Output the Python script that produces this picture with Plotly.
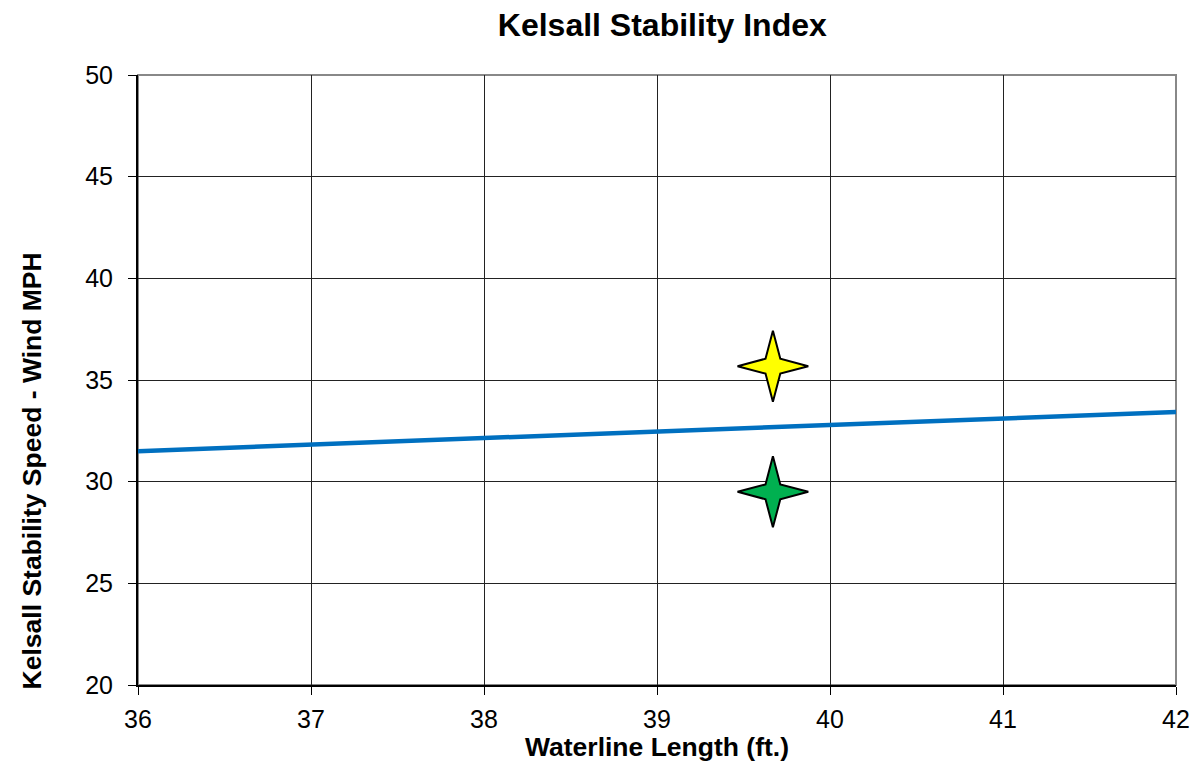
import math
import plotly.graph_objects as go

line_x = [36, 42]
line_y = [31.5, 33.43]
star_x = [39.67, 39.67]
star_y = [35.68, 29.5]
star_colors = ["#FFFF00", "#00B050"]

x_range = [36, 42]
y_range = [20, 50]

W, H = 1202, 775
ML, MR, MT, MB = 138, 22, 75, 90
plot_w = W - ML - MR
plot_h = H - MT - MB
ux = (x_range[1] - x_range[0]) / plot_w  # data per px
uy = (y_range[1] - y_range[0]) / plot_h

font = "Liberation Sans, Arial, sans-serif"

fig = go.Figure()
fig.add_trace(go.Scatter(x=line_x, y=line_y, mode="lines",
                         line=dict(color="#0070C0", width=4.5), showlegend=False,
                         hoverinfo="skip"))

R_out, R_in = 35.5, 10.5
for cx, cy, col in zip(star_x, star_y, star_colors):
    xs, ys = [], []
    for k in range(9):
        ang = math.pi / 2 + k * math.pi / 4
        r = R_out if k % 2 == 0 else R_in
        xs.append(cx + r * math.cos(ang) * ux)
        ys.append(cy + r * math.sin(ang) * uy)
    fig.add_trace(go.Scatter(x=xs, y=ys, mode="lines", fill="toself", fillcolor=col,
                             line=dict(color="black", width=2), showlegend=False,
                             hoverinfo="skip"))

fig.update_layout(
    width=W, height=H,
    margin=dict(l=ML, r=MR, t=MT, b=MB),
    paper_bgcolor="white", plot_bgcolor="white",
    title=dict(text="<b>Kelsall Stability Index</b>", x=0.551, xanchor="center",
               y=1 - 25 / H, yanchor="middle", font=dict(family=font, size=32, color="black")),
    font=dict(family=font, color="black"),
    shapes=[dict(type="rect", xref="paper", yref="paper", x0=0, x1=1, y0=0, y1=1,
                 line=dict(color="#888888", width=2), layer="below")],
    annotations=[
        dict(text="<b>Kelsall Stability Speed - Wind MPH</b>", textangle=-90,
             xref="paper", yref="paper", x=(32 - ML) / plot_w, y=(H - MB - 471) / plot_h,
             xanchor="center", yanchor="middle", showarrow=False,
             font=dict(family=font, size=26.5, color="black")),
        dict(text="<b>Waterline Length (ft.)</b>",
             xref="paper", yref="paper", x=0.5, y=(H - MB - 747) / plot_h,
             xanchor="center", yanchor="middle", showarrow=False,
             font=dict(family=font, size=26.5, color="black")),
    ],
)
fig.update_xaxes(range=x_range, dtick=1, showgrid=True, gridcolor="#222222", gridwidth=1,
                 showline=True, linecolor="black", linewidth=2, ticks="outside", ticklen=8,
                 tickcolor="black", tickfont=dict(size=25), ticklabelstandoff=3,
                 zeroline=False)
fig.update_yaxes(range=y_range, dtick=5, showgrid=True, gridcolor="#222222", gridwidth=1,
                 showline=True, linecolor="black", linewidth=2, ticks="outside", ticklen=8,
                 tickcolor="black", tickfont=dict(size=25), ticklabelstandoff=10,
                 zeroline=False)

fig.write_html("out.html")
